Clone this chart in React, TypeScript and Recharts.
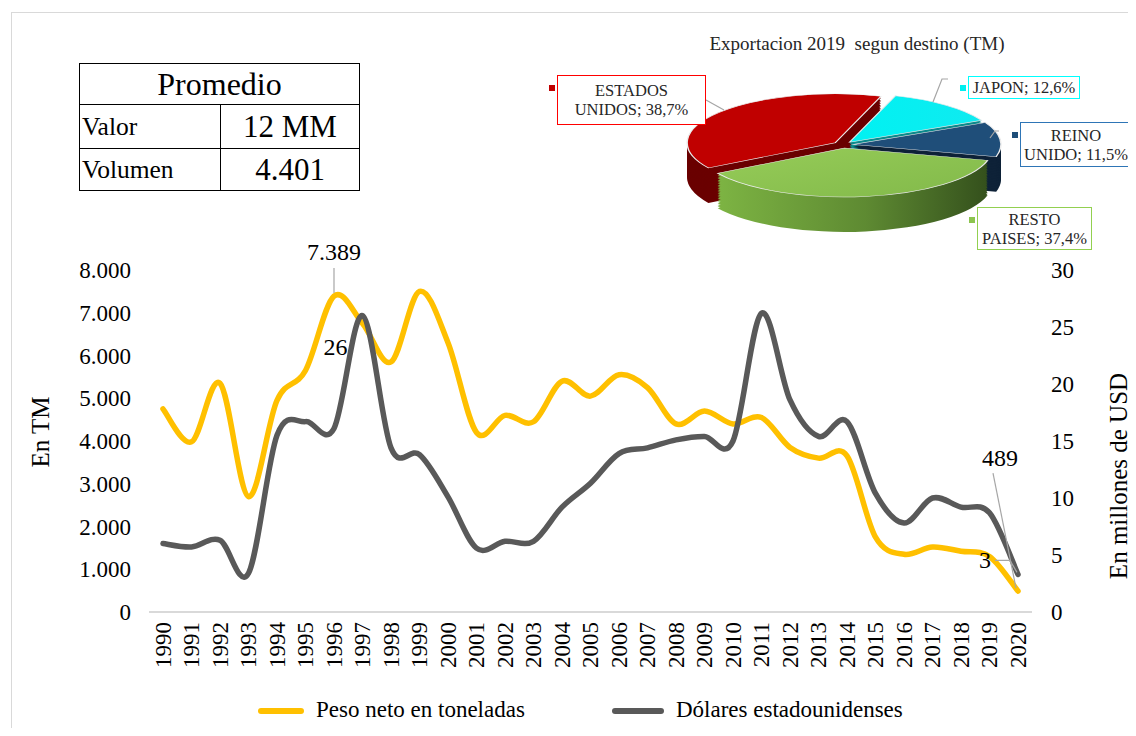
import React from "react"
import { LineChart, Line, XAxis, YAxis, Label, PieChart, Pie } from "recharts"

// --- datos de la serie anual ---
const years = [
  "1990", "1991", "1992", "1993", "1994", "1995", "1996", "1997", "1998", "1999",
  "2000", "2001", "2002", "2003", "2004", "2005", "2006", "2007", "2008", "2009",
  "2010", "2011", "2012", "2013", "2014", "2015", "2016", "2017", "2018", "2019", "2020",
]
const pesoNeto = [
  4750, 3980, 5350, 2700, 4950, 5650, 7389, 6750, 5850, 7500,
  6300, 4200, 4600, 4450, 5400, 5050, 5550, 5250, 4400, 4700,
  4400, 4550, 3850, 3600, 3650, 1750, 1350, 1520, 1420, 1300, 489,
]
const dolares = [
  6.0, 5.7, 6.3, 3.4, 15.5, 16.7, 16.1, 26.0, 14.4, 13.8,
  10.1, 5.6, 6.2, 6.2, 9.2, 11.3, 13.9, 14.4, 15.1, 15.4,
  15.0, 26.2, 18.6, 15.4, 16.7, 10.4, 7.8, 10.0, 9.2, 8.7, 3.3,
]
const seriesNames = ["Peso neto en toneladas", "Dólares estadounidenses"]
const tmTicks = [0, 1000, 2000, 3000, 4000, 5000, 6000, 7000, 8000]
const usdTicks = [0, 5, 10, 15, 20, 25, 30]

// --- exportacion 2019 por destino ---
const destinos = ["JAPON", "REINO UNIDO", "RESTO PAISES", "ESTADOS UNIDOS"]
const participacion = [12.6, 11.5, 37.4, 38.7]

// --- tabla promedio ---
const promedioLabels = ["Valor", "Volumen"]
const promedioValues = ["12 MM", "4.401"]

const rows = years.map((year, i) => ({ year, peso: pesoNeto[i], usd: dolares[i] }))

const FONT = "'Liberation Serif', 'Times New Roman', serif"
const YELLOW = "#FFC000"
const GREY = "#595959"

const fmtMiles = (v: number) => String(Math.round(v)).replace(/\B(?=(\d{3})+(?!\d))/g, ".")

// suavizado tipo Excel (Catmull-Rom)
const excelCurve = (context: any) => {
  let pts: number[][] = []
  return {
    areaStart() {},
    areaEnd() {},
    lineStart() {
      pts = []
    },
    point(x: number, y: number) {
      pts.push([+x, +y])
    },
    lineEnd() {
      const n = pts.length
      if (!n) return
      context.moveTo(pts[0][0], pts[0][1])
      for (let i = 0; i < n - 1; i++) {
        const p0 = pts[Math.max(i - 1, 0)]
        const p1 = pts[i]
        const p2 = pts[i + 1]
        const p3 = pts[Math.min(i + 2, n - 1)]
        context.bezierCurveTo(
          p1[0] + (p2[0] - p0[0]) / 6,
          p1[1] + (p2[1] - p0[1]) / 6,
          p2[0] - (p3[0] - p1[0]) / 6,
          p2[1] - (p3[1] - p1[1]) / 6,
          p2[0],
          p2[1]
        )
      }
    },
  }
}

const labelStyle = { fontSize: 24, fill: "#000", fontFamily: FONT }

const pesoDot = (props: any) => {
  const { cx, cy, index, value } = props
  if (index === 6) {
    return (
      <g key={`p${index}`}>
        <line x1={cx} y1={cy - 28} x2={cx} y2={cy - 3} stroke="#A6A6A6" strokeWidth={1.2} />
        <text x={cx} y={cy - 44} textAnchor="middle" dominantBaseline="central" style={labelStyle}>
          {fmtMiles(value)}
        </text>
      </g>
    )
  }
  if (index === rows.length - 1) {
    return (
      <g key={`p${index}`}>
        <line x1={cx - 25} y1={cy - 118} x2={cx - 2} y2={cy - 3} stroke="#A6A6A6" strokeWidth={1.2} />
        <text x={cx - 18} y={cy - 133} textAnchor="middle" dominantBaseline="central" style={labelStyle}>
          {fmtMiles(value)}
        </text>
      </g>
    )
  }
  return <g key={`p${index}`} />
}

const usdDot = (props: any) => {
  const { cx, cy, index, value } = props
  if (index === 7) {
    return (
      <g key={`u${index}`}>
        <text x={cx - 27} y={cy + 31} textAnchor="middle" dominantBaseline="central" style={labelStyle}>
          {Math.round(value)}
        </text>
      </g>
    )
  }
  if (index === rows.length - 1) {
    return (
      <g key={`u${index}`}>
        <polyline
          points={`${cx - 23},${cy - 14} ${cx - 8},${cy - 14} ${cx - 1},${cy - 2}`}
          fill="none"
          stroke="#A6A6A6"
          strokeWidth={1.2}
        />
        <text x={cx - 33} y={cy - 14} textAnchor="middle" dominantBaseline="central" style={labelStyle}>
          {Math.round(value)}
        </text>
      </g>
    )
  }
  return <g key={`u${index}`} />
}

const YearTick = (props: any) => {
  const { x, y, payload } = props
  const ty = y + 2
  return (
    <text
      x={x}
      y={ty}
      transform={`rotate(-90, ${x}, ${ty})`}
      textAnchor="end"
      dy="0.34em"
      style={{ fontSize: 23, fill: "#000", fontFamily: FONT }}
    >
      {payload.value}
    </text>
  )
}

const axisTitle = (text: string, x: number, y: number) => () =>
  (
    <text
      x={x}
      y={y}
      transform={`rotate(-90, ${x}, ${y})`}
      textAnchor="middle"
      dominantBaseline="central"
      style={{ fontSize: 25, fill: "#000", fontFamily: FONT }}
    >
      {text}
    </text>
  )

// --- pastel 3D ---
const PIE_START = 72
const SQUASH = 0.33
const RX = 148
const DEPTH = 106
const EXPLODE = 10
const PIE_W = 340
const PIE_H = 440
const PCX = 170
const PCY = 160

const topColors = ["url(#cyanTop)", "#1F4E79", "url(#greenTop)", "#C00000"]
const sideColors = ["#0B8A8C", "#0E2238", "url(#greenSide)", "#6A0000"]
const boxColors = ["#00FFFF", "#2E75B6", "#92D050", "#FF0000"]
const keyColors = ["#00F0F0", "#1F4E79", "#8CC44F", "#C00000"]

const total = participacion.reduce((a, b) => a + b, 0)
let acc = 0
const slices = destinos.map((name, i) => {
  const start = PIE_START - (acc / total) * 360
  acc += participacion[i]
  const end = PIE_START - (acc / total) * 360
  const mid = (((start + end) / 2) * Math.PI) / 180
  return {
    name,
    value: participacion[i],
    start,
    end,
    dx: EXPLODE * Math.cos(mid),
    dy: -EXPLODE * Math.sin(mid),
  }
})
const depthLayers: number[] = []
for (let d = DEPTH; d > 0; d -= 5) depthLayers.push(d)

const sliceText = (name: string, v: number) => {
  const pct = `${v.toFixed(1).replace(".", ",")}%`
  const sp = name.indexOf(" ")
  return sp < 0 ? [`${name}; ${pct}`] : [name.slice(0, sp), `${name.slice(sp + 1)}; ${pct}`]
}

// posiciones de las etiquetas del pastel
const pieBoxes = [
  { left: 968, top: 76, width: 112, height: 23 },
  { left: 1020, top: 122, width: 112, height: 45 },
  { left: 977, top: 207, width: 115, height: 43 },
  { left: 557, top: 75, width: 149, height: 50 },
]

function Pie3D() {
  return (
    <div
      style={{
        position: "absolute",
        left: 843 - PCX,
        top: 145 - PCY * SQUASH,
        width: PIE_W,
        height: PIE_H,
        transform: `scaleY(${SQUASH})`,
        transformOrigin: "top left",
      }}
    >
      <PieChart width={PIE_W} height={PIE_H} margin={{ top: 0, right: 0, bottom: 0, left: 0 }}>
        <defs>
          <linearGradient id="greenSide" x1="0" y1="0" x2="1" y2="0">
            <stop offset="0%" stopColor="#7DB443" />
            <stop offset="55%" stopColor="#5E8A32" />
            <stop offset="100%" stopColor="#34501C" />
          </linearGradient>
          <linearGradient id="greenTop" x1="0" y1="0" x2="1" y2="1">
            <stop offset="0%" stopColor="#96CC58" />
            <stop offset="100%" stopColor="#82B94A" />
          </linearGradient>
          <linearGradient id="cyanTop" x1="0" y1="0" x2="1" y2="0">
            <stop offset="0%" stopColor="#00F2F2" />
            <stop offset="100%" stopColor="#10EAF0" />
          </linearGradient>
        </defs>
        {depthLayers.map((d) =>
          slices.map((s, i) => (
            <Pie
              key={`side-${d}-${i}`}
              data={[s]}
              dataKey="value"
              nameKey="name"
              cx={PCX + s.dx}
              cy={PCY + s.dy + d}
              outerRadius={RX}
              startAngle={s.start}
              endAngle={s.end}
              fill={sideColors[i]}
              stroke="none"
              isAnimationActive={false}
              legendType="none"
            />
          ))
        )}
        {slices.map((s, i) => (
          <Pie
            key={`top-${i}`}
            data={[s]}
            dataKey="value"
            nameKey="name"
            cx={PCX + s.dx}
            cy={PCY + s.dy}
            outerRadius={RX}
            startAngle={s.start}
            endAngle={s.end}
            fill={topColors[i]}
            stroke="#EDEDED"
            strokeWidth={1.5}
            isAnimationActive={false}
            legendType="none"
          />
        ))}
      </PieChart>
    </div>
  )
}

const cell = (extra: React.CSSProperties): React.CSSProperties => ({
  border: "1.5px solid #000",
  padding: 0,
  ...extra,
})

export default function App() {
  return (
    <div
      style={{
        position: "relative",
        margin: -8,
        width: 1136,
        height: 736,
        overflow: "hidden",
        background: "#fff",
        fontFamily: FONT,
        color: "#000",
      }}
    >
      {/* marco */}
      <div
        style={{
          position: "absolute",
          left: 11,
          top: 12,
          width: 1140,
          height: 740,
          borderTop: "1px solid #D9D9D9",
          borderLeft: "1px solid #D9D9D9",
        }}
      />
      <div style={{ position: "absolute", left: 1131, top: 21, width: 2, height: 720, background: "#E3E3E3" }} />

      <div style={{ position: "absolute", left: 0, top: 0 }}>
        <LineChart width={1136} height={736} data={rows} margin={{ top: 270, right: 0, bottom: 64, left: 0 }}>
          <XAxis
            dataKey="year"
            interval={0}
            tick={<YearTick />}
            tickLine={false}
            axisLine={{ stroke: "#D9D9D9", strokeWidth: 2 }}
            height={60}
            padding={{ left: 14, right: 14 }}
          />
          <YAxis
            yAxisId="tm"
            width={149}
            domain={[0, 8000]}
            ticks={tmTicks}
            tickFormatter={fmtMiles}
            tickLine={false}
            axisLine={false}
            tickMargin={12}
            tick={{ fontSize: 23, fill: "#000", fontFamily: FONT }}
          >
            <Label content={axisTitle("En TM", 40, 432)} />
          </YAxis>
          <YAxis
            yAxisId="usd"
            orientation="right"
            width={104}
            domain={[0, 30]}
            ticks={usdTicks}
            tickLine={false}
            axisLine={false}
            tickMargin={13}
            tick={{ fontSize: 23, fill: "#000", fontFamily: FONT, textAnchor: "start" }}
          >
            <Label content={axisTitle("En millones de USD", 1118, 476)} />
          </YAxis>
          <Line
            yAxisId="tm"
            dataKey="peso"
            name={seriesNames[0]}
            type={excelCurve as any}
            stroke={YELLOW}
            strokeWidth={5.5}
            strokeLinecap="round"
            dot={pesoDot}
            activeDot={false}
            isAnimationActive={false}
          />
          <Line
            yAxisId="usd"
            dataKey="usd"
            name={seriesNames[1]}
            type={excelCurve as any}
            stroke={GREY}
            strokeWidth={5.5}
            strokeLinecap="round"
            dot={usdDot}
            activeDot={false}
            isAnimationActive={false}
          />
        </LineChart>
      </div>

      {/* leyenda */}
      {[
        { color: YELLOW, sx: 258, tx: 316 },
        { color: GREY, sx: 612, tx: 676 },
      ].map((l, i) => (
        <React.Fragment key={i}>
          <div
            style={{
              position: "absolute",
              left: l.sx,
              top: 708,
              width: l.tx - l.sx - 12,
              height: 6,
              borderRadius: 3,
              background: l.color,
            }}
          />
          <div style={{ position: "absolute", left: l.tx, top: 696, fontSize: 23, lineHeight: "28px", whiteSpace: "nowrap" }}>
            {seriesNames[i]}
          </div>
        </React.Fragment>
      ))}

      {/* tabla promedio */}
      <table
        style={{
          position: "absolute",
          left: 79,
          top: 63,
          width: 281,
          borderCollapse: "collapse",
          fontFamily: FONT,
        }}
      >
        <tbody>
          <tr style={{ height: 41 }}>
            <td colSpan={2} style={cell({ textAlign: "center", fontSize: 32, lineHeight: "36px" })}>
              Promedio
            </td>
          </tr>
          {promedioLabels.map((lab, i) => (
            <tr key={lab} style={{ height: i === 0 ? 44 : 42 }}>
              <td style={cell({ width: 138, fontSize: 25.5, paddingLeft: 2, lineHeight: "30px" })}>{lab}</td>
              <td style={cell({ textAlign: "center", fontSize: 31, lineHeight: "36px" })}>{promedioValues[i]}</td>
            </tr>
          ))}
        </tbody>
      </table>

      {/* pastel */}
      <div
        style={{
          position: "absolute",
          left: 707,
          top: 33,
          width: 300,
          textAlign: "center",
          fontSize: 19,
          whiteSpace: "pre",
          color: "#262626",
        }}
      >
        {"Exportacion 2019  segun destino (TM)"}
      </div>
      <Pie3D />
      <svg width={1136} height={736} style={{ position: "absolute", left: 0, top: 0, pointerEvents: "none" }}>
        <polyline points="706,100 724,110" fill="none" stroke="#A6A6A6" strokeWidth={1.2} />
        <polyline points="948,79 942,79 933,102" fill="none" stroke="#A6A6A6" strokeWidth={1.2} />
        <polyline points="999,131 995,131 990,138" fill="none" stroke="#A6A6A6" strokeWidth={1.2} />
      </svg>
      {slices.map((s, i) => {
        const b = pieBoxes[i]
        return (
          <React.Fragment key={s.name}>
            <div
              style={{
                position: "absolute",
                left: b.left - 8,
                top: b.top + (b.height > 30 ? 10 : 9),
                width: 6,
                height: 6,
                background: keyColors[i],
              }}
            />
            <div
              style={{
                position: "absolute",
                left: b.left,
                top: b.top,
                width: b.width,
                height: b.height,
                boxSizing: "border-box",
                border: `1.5px solid ${boxColors[i]}`,
                background: "#fff",
                display: "flex",
                flexDirection: "column",
                justifyContent: "center",
                alignItems: "center",
                fontSize: 16.5,
                lineHeight: "19px",
                color: "#262626",
                whiteSpace: "nowrap",
              }}
            >
              {sliceText(s.name, s.value).map((t) => (
                <div key={t}>{t}</div>
              ))}
            </div>
          </React.Fragment>
        )
      })}
    </div>
  )
}
